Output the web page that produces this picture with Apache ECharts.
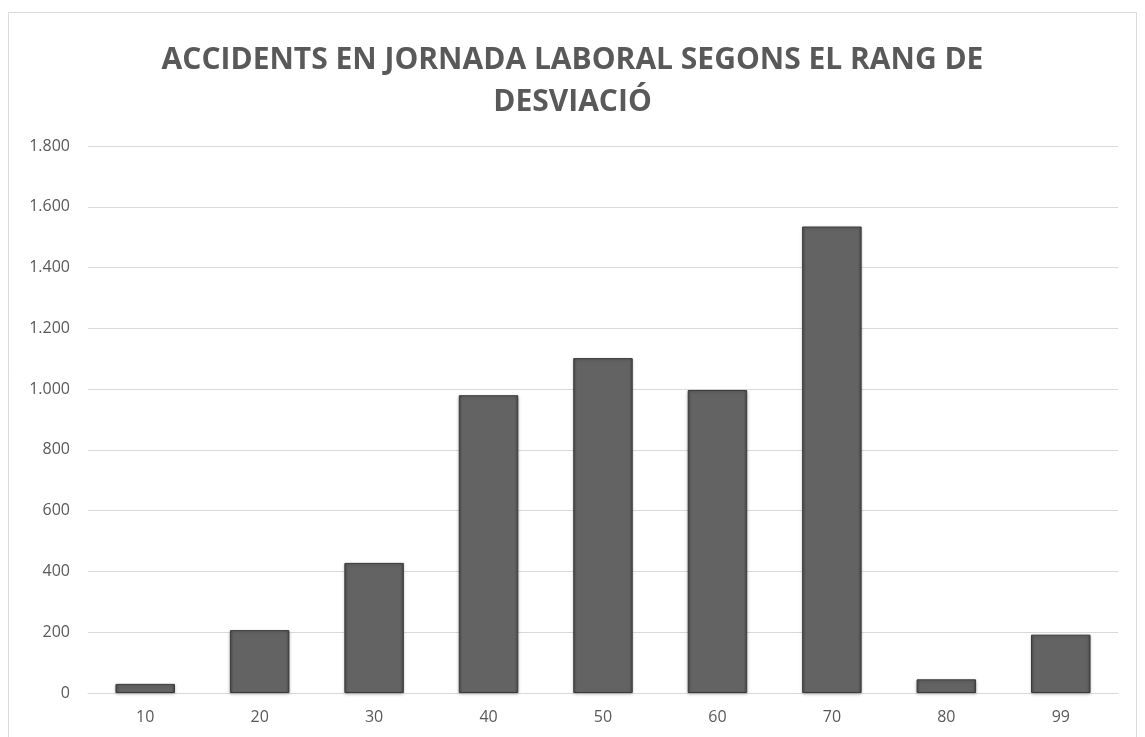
<!DOCTYPE html>
<html>
<head>
<meta charset="utf-8">
<script src="https://cdn.jsdelivr.net/npm/echarts@6/dist/echarts.min.js"></script>
<style>
  html, body { margin: 0; padding: 0; background: #fff; }
  #chart { width: 1145px; height: 737px; }
</style>
</head>
<body>
<div id="chart"></div>
<script>
const categories = ['10', '20', '30', '40', '50', '60', '70', '80', '99']
const accidents = [30, 207, 428, 980, 1102, 997, 1535, 45, 192]

const chart = echarts.init(document.getElementById('chart'))

function fmt (v) {
  return String(v).replace(/\B(?=(\d{3})+(?!\d))/g, '.')
}

const option = {
  backgroundColor: '#fff',
  animation: false,
  title: {
    text: 'ACCIDENTS EN JORNADA LABORAL SEGONS EL RANG DE\nDESVIACIÓ',
    left: 'center',
    top: 34,
    textStyle: {
      fontFamily: 'Open Sans',
      fontSize: 30,
      fontWeight: 'bold',
      color: '#595959',
      lineHeight: 42
    }
  },
  graphic: [{
    type: 'rect',
    shape: { x: 8.5, y: 12.5, width: 1128, height: 740 },
    style: { fill: 'none', stroke: '#d9d9d9', lineWidth: 1 },
    silent: true
  }],
  grid: { left: 88, right: 27, top: 146, bottom: 44 },
  xAxis: {
    type: 'category',
    data: categories,
    axisLine: { lineStyle: { color: '#d9d9d9' } },
    axisTick: { show: false },
    axisLabel: { color: '#595959', fontSize: 16, fontFamily: 'Open Sans', margin: 16 }
  },
  yAxis: {
    type: 'value',
    min: 0,
    max: 1800,
    interval: 200,
    axisLine: { show: false },
    axisTick: { show: false },
    splitLine: { lineStyle: { color: '#d9d9d9' } },
    axisLabel: {
      color: '#595959',
      fontSize: 16,
      fontFamily: 'Open Sans',
      margin: 18,
      formatter: fmt
    }
  },
  series: [{
    type: 'bar',
    data: accidents,
    barWidth: '52%',
    itemStyle: {
      color: {
        type: 'linear', x: 0, y: 0, x2: 1, y2: 0,
        colorStops: [
          { offset: 0, color: '#4d4d4d' },
          { offset: 0.06, color: '#636363' },
          { offset: 0.94, color: '#636363' },
          { offset: 1, color: '#4d4d4d' }
        ]
      },
      borderColor: '#3a3a3a',
      borderWidth: 1,
      shadowColor: 'rgba(0,0,0,0.25)',
      shadowBlur: 3,
      shadowOffsetY: 1
    }
  }]
}

chart.setOption(option)
</script>
</body>
</html>
